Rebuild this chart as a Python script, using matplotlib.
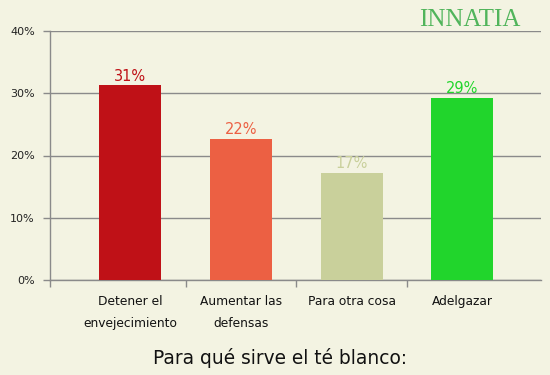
import matplotlib
matplotlib.use("Agg")
import matplotlib.pyplot as plt

categories = ["Detener el\nenvejecimiento", "Aumentar las\ndefensas", "Para otra cosa", "Adelgazar"]
values = [31.3, 22.7, 17.2, 29.3]
labels = ["31%", "22%", "17%", "29%"]
colors = ["#bf1117", "#ec6043", "#c9d09b", "#21d52c"]
yticks = [0, 10, 20, 30, 40]
ytick_labels = ["0%", "10%", "20%", "30%", "40%"]
title = "Para qué sirve el té blanco:"

bg = "#f3f3e2"
grid = "#8a8a8a"

fig = plt.figure(figsize=(5.5, 3.75), dpi=100, facecolor=bg)
ax = fig.add_axes([50/550, 95/375, (541-50)/550, (280-31)/375], facecolor=bg)

x = list(range(len(categories)))
ax.bar(x, values, width=0.56, color=colors, zorder=3)
for xi, v, lab, c in zip(x, values, labels, colors):
    ax.text(xi, v + 0.25, lab, ha="center", va="bottom", color=c, fontsize=10.5, zorder=4)

ax.set_xlim(-0.724, 3.71)
ax.set_ylim(0, 40)
ax.set_yticks(yticks)
ax.set_yticklabels(ytick_labels, fontsize=8, color="#222222")
ax.yaxis.grid(True, color=grid, linewidth=1, zorder=1)
ax.set_axisbelow(True)

# x ticks at category boundaries, labels centered
ax.set_xticks([-0.724, 0.5, 1.5, 2.5], minor=False)
ax.set_xticklabels([])
ax.set_xticks(x, minor=True)
ax.set_xticklabels(categories, minor=True, fontsize=8.8, color="#111111", linespacing=1.85)
ax.tick_params(axis="x", which="minor", length=0, pad=11)
ax.tick_params(axis="x", which="major", length=5, color=grid, width=1)
ax.tick_params(axis="y", length=5, color=grid, width=1, pad=6)

for s in ["top", "right"]:
    ax.spines[s].set_visible(False)
for s in ["left", "bottom"]:
    ax.spines[s].set_color(grid)
    ax.spines[s].set_linewidth(1)

fig.text(280/550, 1 - 358/375, title, ha="center", va="center", fontsize=13.4, color="#111111")

# logo
fig.text(470/550, 1 - 20/375, "INNATIA", ha="center", va="center", fontsize=18,
         color="#3fae4c", family="Liberation Serif", alpha=0.9)

fig.savefig("out.png", dpi=100, facecolor=bg)
